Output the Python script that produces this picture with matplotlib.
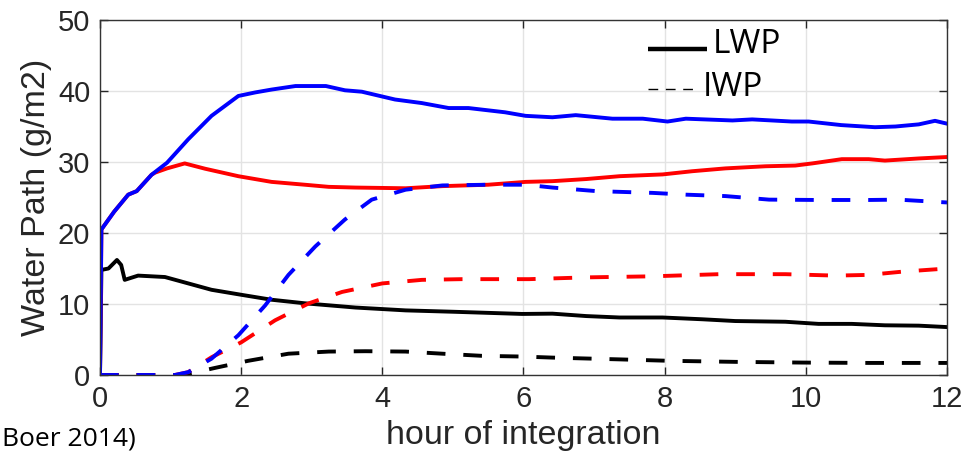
import numpy as np
import matplotlib.pyplot as plt

# hours of integration and water paths (g/m2)
# blue run
blue_lwp_t = [0, 0.02, 0.2, 0.4, 0.52, 0.73, 0.95, 1.25, 1.58, 1.96, 2.2, 2.43, 2.77, 3.2, 3.47,
              3.71, 4.18, 4.56, 4.94, 5.22, 5.74, 6.03, 6.41, 6.74, 7.26, 7.69, 8.04, 8.3, 8.96,
              9.24, 9.8, 10.04, 10.5, 10.98, 11.27, 11.6, 11.83, 12.0]
blue_lwp = [0, 20.5, 23.0, 25.4, 25.9, 28.2, 29.9, 33.2, 36.5, 39.3, 39.8, 40.2, 40.7, 40.7, 40.1,
            39.9, 38.8, 38.3, 37.6, 37.6, 37.0, 36.5, 36.3, 36.6, 36.1, 36.1, 35.7, 36.1, 35.85,
            36.0, 35.7, 35.7, 35.2, 34.9, 35.0, 35.3, 35.8, 35.4]
blue_iwp_t = [0, 1.06, 1.25, 1.58, 1.96, 2.34, 2.67, 3.05, 3.47, 3.85, 4.33, 4.85, 5.5, 6.03,
              6.41, 7.03, 7.83, 8.3, 8.86, 9.48, 10.18, 10.89, 11.31, 12.0]
blue_iwp = [0, 0, 0.4, 2.3, 5.6, 9.8, 14.1, 18.1, 21.9, 24.7, 26.1, 26.7, 26.8, 26.8,
            26.4, 25.9, 25.65, 25.4, 25.2, 24.7, 24.65, 24.65, 24.7, 24.3]

# red run
red_lwp_t = [0, 0.02, 0.2, 0.4, 0.52, 0.73, 0.78, 0.95, 1.2, 1.49, 1.96, 2.43, 2.9, 3.24, 3.62,
             4.33, 4.85, 5.5, 6.03, 6.41, 6.89, 7.36, 7.97, 8.39, 8.86, 9.43, 9.85, 10.09,
             10.51, 10.89, 11.12, 11.6, 12.0]
red_lwp = [0, 20.5, 23.0, 25.4, 25.9, 28.2, 28.5, 29.1, 29.8, 29.05, 28.0, 27.2, 26.8, 26.5, 26.4,
           26.3, 26.6, 26.8, 27.2, 27.3, 27.6, 28.0, 28.25, 28.7, 29.1, 29.4, 29.5, 29.8,
           30.4, 30.4, 30.2, 30.5, 30.7]
red_iwp_t = [0, 1.06, 1.25, 1.58, 2.0, 2.48, 2.96, 3.43, 4.0, 4.56, 5.13, 6.08, 6.89, 7.83,
             8.77, 9.71, 10.42, 10.89, 11.36, 12.0]
red_iwp = [0, 0, 0.4, 2.5, 4.6, 7.7, 10.1, 11.7, 12.9, 13.4, 13.5, 13.5, 13.75, 13.9,
           14.2, 14.2, 14.0, 14.1, 14.55, 15.0]

# black run
black_lwp_t = [0, 0.02, 0.12, 0.24, 0.3, 0.35, 0.54, 0.92, 1.25, 1.58, 2.0, 2.43, 2.9, 3.62,
               4.33, 5.03, 5.98, 6.41, 6.89, 7.36, 7.97, 8.53, 9.0, 9.71, 10.18, 10.65, 11.12,
               11.6, 12.0]
black_lwp = [0, 14.8, 15.0, 16.2, 15.5, 13.4, 14.0, 13.8, 12.9, 12.0, 11.3, 10.6, 10.1, 9.5,
             9.1, 8.9, 8.6, 8.64, 8.3, 8.1, 8.1, 7.85, 7.6, 7.5, 7.2, 7.2, 7.0,
             6.95, 6.75]
black_iwp_t = [0, 1.1, 1.25, 1.63, 2.1, 2.67, 3.24, 3.76, 4.33, 4.85, 5.41, 5.98, 6.41, 7.36,
               8.06, 9.0, 9.95, 10.89, 12.0]
black_iwp = [0, 0, 0.15, 1.0, 2.0, 3.0, 3.3, 3.35, 3.3, 3.0, 2.7, 2.6, 2.45, 2.2,
             2.0, 1.85, 1.75, 1.7, 1.7]

xticks = [0, 2, 4, 6, 8, 10, 12]
yticks = [0, 10, 20, 30, 40, 50]

plt.rcParams['font.family'] = ['Liberation Sans', 'DejaVu Sans']

fig = plt.figure(figsize=(9.78, 4.51), dpi=100)
ax = fig.add_axes([100/978, 1 - 375/451, 847/978, 355/451])

lw = 2.8
dash = (4.8, 4.6)
ax.plot(black_lwp_t, black_lwp, color='black', lw=lw)
ax.plot(red_lwp_t, red_lwp, color='#ff0000', lw=lw)
ax.plot(blue_lwp_t, blue_lwp, color='#0000ff', lw=lw)
ax.plot(black_iwp_t, black_iwp, color='black', lw=lw, dashes=dash)
ax.plot(red_iwp_t, red_iwp, color='#ff0000', lw=lw, dashes=dash)
ax.plot(blue_iwp_t, blue_iwp, color='#0000ff', lw=lw, dashes=dash)

ax.set_xlim(0, 12)
ax.set_ylim(0, 50)
ax.set_xticks(xticks)
ax.set_yticks(yticks)
ax.grid(True, color='#e3e3e3', lw=1.0)
ax.set_axisbelow(True)
ax.tick_params(direction='in', length=6, width=1, top=True, right=True,
               labelsize=21, colors='#262626', pad=7)
for s in ax.spines.values():
    s.set_color('#333333')
    s.set_linewidth(1.0)

ax.set_xlabel('hour of integration', fontsize=24.5, color='#262626', labelpad=5)
ax.set_ylabel('Water Path (g/m2)', fontsize=24.5, color='#262626', labelpad=4)

# hand-drawn style legend
ax.plot([0.647, 0.717], [0.918, 0.918], transform=ax.transAxes, color='black', lw=3.2,
        solid_capstyle='butt')
ax.plot([0.647, 0.707], [0.806, 0.806], transform=ax.transAxes, color='black', lw=1.0,
        dashes=(7, 5.5))
ax.text(0.723, 0.93, 'LWP', transform=ax.transAxes, fontsize=24, family='Open Sans',
        va='center', ha='left')
ax.text(0.712, 0.81, 'IWP', transform=ax.transAxes, fontsize=24, family='Open Sans',
        va='center', ha='left')

fig.text(0.002, 0.0, 'Boer 2014)', fontsize=19, family='Open Sans', ha='left', va='bottom')

fig.savefig('out.png', dpi=100)
